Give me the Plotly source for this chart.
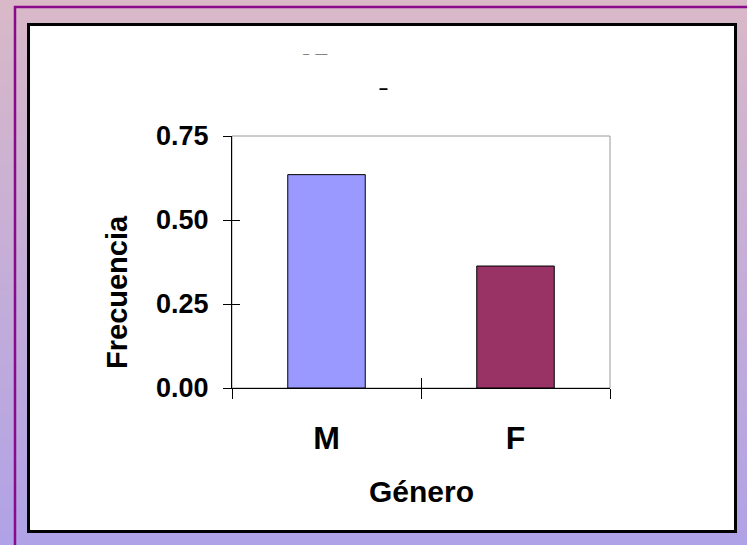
import base64, struct, zlib
import plotly.graph_objects as go

# ---- data ----
categories = ["M", "F"]
frequencies = [0.635, 0.363]
bar_colors = ["#9999FF", "#993366"]
y_ticks = [0.0, 0.25, 0.50, 0.75]
y_title = "Frecuencia"
x_title = "Género"

W, H = 747, 545
L, R, T, B = 232, 137, 136, 157
PW, PH = W - L - R, H - T - B


def px(x):
    return (x - L) / PW


def py(y):
    return 1 - (y - T) / PH


def png_gradient(top, bottom, h=256):
    rows = b""
    for i in range(h):
        t = i / (h - 1)
        c = [round(top[k] + (bottom[k] - top[k]) * t) for k in range(3)]
        rows += b"\x00" + bytes(c)

    def chunk(tag, data):
        return struct.pack(">I", len(data)) + tag + data + struct.pack(">I", zlib.crc32(tag + data) & 0xffffffff)

    png = (b"\x89PNG\r\n\x1a\n"
           + chunk(b"IHDR", struct.pack(">IIBBBBB", 1, h, 8, 2, 0, 0, 0))
           + chunk(b"IDAT", zlib.compress(rows))
           + chunk(b"IEND", b""))
    return "data:image/png;base64," + base64.b64encode(png).decode()


FONT = "Liberation Sans Narrow, Arial Narrow, Liberation Sans, Arial, sans-serif"

fig = go.Figure()
fig.add_trace(go.Bar(
    x=categories, y=frequencies, marker=dict(color=bar_colors, line=dict(color="black", width=1)),
    width=0.41, showlegend=False, hoverinfo="x+y",
))

fig.update_layout(
    width=W, height=H, margin=dict(l=L, r=R, t=T, b=B, pad=0),
    paper_bgcolor="#C8AED6", plot_bgcolor="rgba(0,0,0,0)",
    showlegend=False,
    xaxis=dict(type="category", categoryarray=categories, range=[-0.5, 1.5],
               showline=True, linecolor="black", linewidth=1, showgrid=False, zeroline=False,
               ticks="outside", ticklen=10, tickcolor="black", tickson="boundaries",
               tickfont=dict(family=FONT, size=32, color="black", weight="bold"),
               ticklabelstandoff=22),
    xaxis2=dict(overlaying="x", range=[-0.5, 1.5], tickvals=[-0.5, 0.5, 1.5], ticks="inside",
                ticklen=10, tickcolor="black", showticklabels=False, showgrid=False, zeroline=False,
                showline=False, side="bottom"),
    yaxis=dict(range=[0, 0.75], tickvals=y_ticks, tickformat=".2f",
               showline=True, linecolor="black", linewidth=1, showgrid=False, zeroline=False,
               ticks="outside", ticklen=8, tickcolor="black",
               tickfont=dict(family=FONT, size=27, color="black", weight="bold"),
               ticklabelstandoff=9),
    yaxis2=dict(overlaying="y", range=[0, 0.75], tickvals=y_ticks, ticks="inside", ticklen=8,
                tickcolor="black", showticklabels=False, showgrid=False, zeroline=False, showline=False,
                side="left"),
)
# invisible trace that activates the overlay axes
fig.add_trace(go.Scatter(x=[0], y=[0], xaxis="x2", yaxis="y2", mode="markers",
                         marker=dict(opacity=0), showlegend=False, hoverinfo="skip"))

# gradient background
fig.add_layout_image(dict(
    source=png_gradient((217, 185, 200), (176, 162, 231)), xref="paper", yref="paper",
    x=px(0), y=py(0), sizex=W / PW, sizey=H / PH, xanchor="left", yanchor="top",
    sizing="stretch", layer="below",
))

shapes = [
    # purple frame lines
    dict(type="line", xref="paper", yref="paper", x0=px(15), x1=px(15), y0=py(6), y1=py(H + 2),
         line=dict(color="#8B0A8B", width=2.5)),
    dict(type="line", xref="paper", yref="paper", x0=px(14), x1=px(W + 2), y0=py(7), y1=py(7),
         line=dict(color="#8B0A8B", width=2.5)),
    # white chart box
    dict(type="rect", xref="paper", yref="paper", x0=px(28.5), x1=px(735.5), y0=py(24.5), y1=py(531.5),
         fillcolor="white", line=dict(color="black", width=3), layer="below"),
    # gray plot-area border
    dict(type="rect", xref="paper", yref="paper", x0=0, x1=1, y0=0, y1=1,
         line=dict(color="#9A9A9A", width=1), layer="below"),
]
fig.update_layout(shapes=shapes)

annotations = [
    dict(text=y_title, xref="paper", yref="paper", x=px(117), y=py(292), textangle=-90,
         showarrow=False, font=dict(family=FONT, size=29, color="black", weight="bold"),
         xanchor="center", yanchor="middle"),
    dict(text=x_title, xref="paper", yref="paper", x=px(421), y=py(491),
         showarrow=False, font=dict(family=FONT, size=30, color="black", weight="bold"),
         xanchor="center", yanchor="middle"),
    # remnants of the clipped title
    dict(text="–  ––", xref="paper", yref="paper", x=px(315), y=py(53),
         showarrow=False, font=dict(family=FONT, size=11, color="#666666"),
         xanchor="center", yanchor="middle"),
    dict(text="–", xref="paper", yref="paper", x=px(383), y=py(88),
         showarrow=False, font=dict(family=FONT, size=16, color="black", weight="bold"),
         xanchor="center", yanchor="middle"),
]
fig.update_layout(annotations=annotations)

fig.write_html("out.html")
